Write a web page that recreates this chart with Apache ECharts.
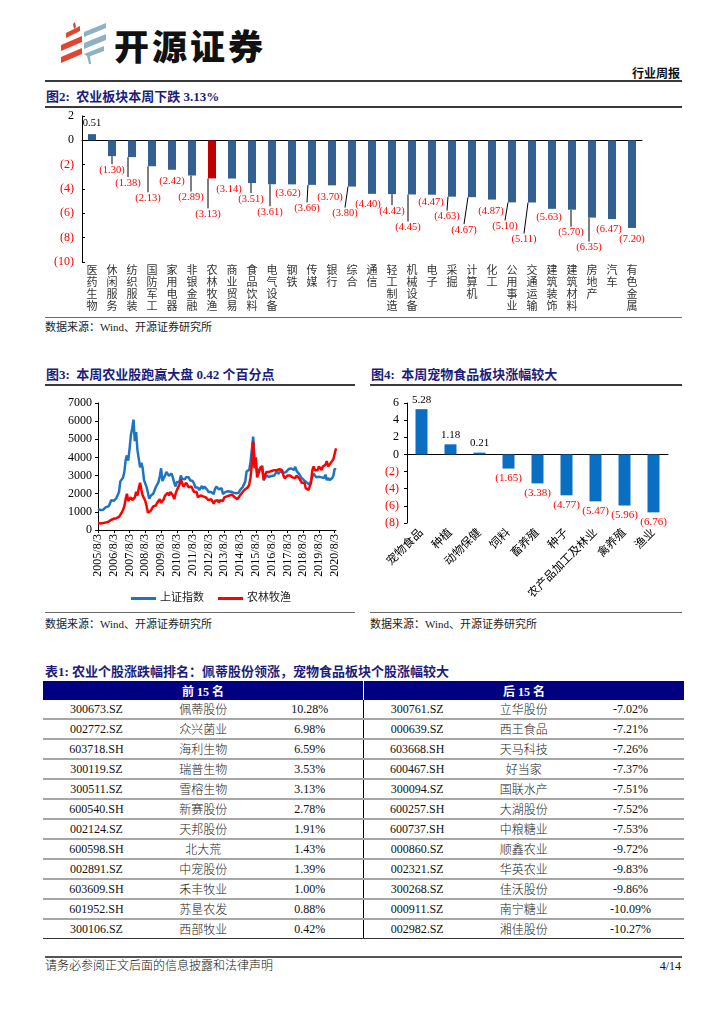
<!DOCTYPE html>
<html><head><meta charset="utf-8">
<script src="https://cdn.jsdelivr.net/npm/echarts@6/dist/echarts.min.js"></script>
<style>
body{margin:0;width:724px;height:1024px;position:relative;background:#fff;font-family:'Liberation Serif','Noto Sans CJK SC',serif;overflow:hidden;}
.title{position:absolute;font-weight:bold;font-size:13px;color:#1c1c7c;white-space:nowrap;line-height:16px;}
.hr{position:absolute;height:0;border-top:2px solid #3a3a3a;}
.hr2{position:absolute;height:0;border-top:1.5px solid #6a6a6a;}
.src{position:absolute;font-size:11px;color:#222;white-space:nowrap;line-height:13px;}
.chart{position:absolute;}
table{position:absolute;left:43px;top:681px;width:641px;border-collapse:collapse;table-layout:fixed;font-size:12px;}
th{background:#000080;color:#fff;height:19px;font-weight:bold;padding:0;font-size:12px;}
td{height:17.6px;text-align:center;padding:0;border-bottom:2px solid #a6a6a6;color:#111;white-space:nowrap;}
td.nm{font-weight:300;color:#222;}
td.div{border-right:1px solid #000;}
tr:last-child td{border-bottom:1.5px solid #333;}
</style>
</head><body>
<!-- header -->
<svg style="position:absolute;left:58px;top:20px" width="54" height="46" viewBox="0 0 54 46">
  <polygon points="8,13 22,6 22,11 8,18" fill="#e0452f"/>
  <polygon points="3,25 24,16 24,22 3,31" fill="#e0452f"/>
  <polygon points="3,37 24,28 24,34 3,43" fill="#e0452f"/>
  <polygon points="15,4 17,2 18,7 16,9" fill="#e0452f"/>
  <polygon points="26,12 48,3 48,8 26,17" fill="#8fb1c4"/>
  <polygon points="26,23 48,14 48,20 26,29" fill="#8fb1c4"/>
  <polygon points="26,34 46,26 46,31 30,37" fill="#8fb1c4"/>
  <polygon points="29,36 32,36 33,44 31,44" fill="#8fb1c4"/>
</svg>
<div style="position:absolute;left:114px;top:25px;font-family:'Noto Sans CJK SC';font-weight:900;font-size:35px;line-height:40px;letter-spacing:3px;color:#111;white-space:nowrap;">开源证券</div>
<div style="position:absolute;right:44px;top:67px;font-weight:bold;font-size:12px;line-height:14px;color:#111;">行业周报</div>
<div class="hr" style="left:45px;top:80px;width:637px;"></div>

<div class="title" style="left:46px;top:89px;">图2:&nbsp; 农业板块本周下跌 3.13%</div>
<div class="hr" style="left:45px;top:106px;width:637px;"></div>
<div id="c1" class="chart" style="left:40px;top:108px;width:650px;height:208px;"></div>
<div class="hr2" style="left:45px;top:317px;width:637px;"></div>
<div class="src" style="left:45px;top:321px;">数据来源：Wind、开源证券研究所</div>

<div class="title" style="left:46px;top:367px;">图3:&nbsp; 本周农业股跑赢大盘 0.42 个百分点</div>
<div class="hr" style="left:45px;top:384px;width:310px;"></div>
<div id="c3" class="chart" style="left:40px;top:386px;width:320px;height:226px;"></div>
<div class="hr2" style="left:45px;top:612px;width:310px;"></div>
<div class="src" style="left:45px;top:618px;">数据来源：Wind、开源证券研究所</div>

<div class="title" style="left:371px;top:367px;">图4:&nbsp; 本周宠物食品板块涨幅较大</div>
<div class="hr" style="left:370px;top:384px;width:312px;"></div>
<div id="c4" class="chart" style="left:365px;top:386px;width:325px;height:226px;"></div>
<div class="hr2" style="left:370px;top:612px;width:312px;"></div>
<div class="src" style="left:370px;top:618px;">数据来源：Wind、开源证券研究所</div>

<div class="title" style="left:45px;top:664px;">表1:&nbsp;农业个股涨跌幅排名：佩蒂股份领涨，宠物食品板块个股涨幅较大</div>
<table id="tbl"></table>

<div class="hr" style="left:45px;top:956px;width:637px;border-top-color:#555;"></div>
<div style="position:absolute;left:45px;top:959px;font-size:12px;line-height:14px;color:#111;font-weight:300;">请务必参阅正文后面的信息披露和法律声明</div>
<div style="position:absolute;right:43px;top:959px;font-size:12px;line-height:14px;color:#111;">4/14</div>

<script>
// ---------- 图2 data ----------
const sectors = ['医药生物','休闲服务','纺织服装','国防军工','家用电器','非银金融','农林牧渔','商业贸易','食品饮料','电气设备','钢铁','传媒','银行','综合','通信','轻工制造','机械设备','电子','采掘','计算机','化工','公用事业','交通运输','建筑装饰','建筑材料','房地产','汽车','有色金属'];
const sectorChg = [0.51,-1.30,-1.38,-2.13,-2.42,-2.89,-3.13,-3.14,-3.51,-3.61,-3.62,-3.66,-3.70,-3.80,-4.40,-4.42,-4.45,-4.47,-4.63,-4.67,-4.87,-5.10,-5.11,-5.63,-5.70,-6.35,-6.47,-7.20];
const highlightSector = '农林牧渔';

// ---------- 图3 data (monthly, 2005/8 - 2020/8) ----------
const sseIndex = [
 1160,1170,1100,1090,1120,
 1180,1260,1300,1300,1440,1640,1670,1610,1660,1760,1840,2100,
 2680,2790,2880,3180,3840,4110,3820,4470,5220,5600,6080,4900,
 5400,4400,4300,3450,3700,3400,2750,2780,2350,2250,1720,1880,
 1850,2000,2100,2370,2480,2640,2960,3400,2700,2780,3000,3200,
 3280,2990,3050,3110,2870,2600,2400,2640,2640,2660,3000,2820,
 2810,2790,2910,2930,2910,2740,2760,2700,2570,2360,2470,2330,
 2200,2290,2430,2260,2400,2370,2220,2100,2050,2090,2070,1980,
 2270,2390,2360,2240,2180,2300,1980,1990,2100,2180,2140,2220,
 2110,2030,2060,2030,2030,2040,2050,2200,2220,2360,2420,2680,
 3230,3210,3310,3750,4440,5150,3900,3660,3160,3050,3380,3450,
 3540,2740,2690,3000,2940,2920,2930,2980,3090,3000,3100,3250,
 3100,3160,3240,3220,3150,3120,3190,3270,3360,3350,3390,3320,
 3310,3480,3260,3170,3080,3100,2850,2880,2720,2820,2600,2590,
 2490,2590,2940,3100,3080,2900,2980,2930,2890,2900,2930,2870,
 3050,2750,2880,2750,2860,2850,2990,3370,3320
];
const agriIndex = [
 380,390,360,360,380,
 400,420,430,450,500,560,600,620,630,650,700,720,
 800,950,1100,1300,1700,2000,1600,1700,1800,1650,1700,1800,
 2100,1900,2300,2600,2200,1900,2000,1600,1300,950,900,1050,
 1100,1300,1400,1350,1500,1550,1700,1500,1600,1700,1900,2000,
 2050,1900,2100,2200,1900,1700,2000,2200,2300,2500,2800,2600,
 2400,2500,2600,2500,2350,2300,2400,2300,2100,2150,2100,1800,
 1800,1900,1950,1850,1900,1800,1700,1650,1600,1700,1600,1450,
 1600,1700,1650,1500,1650,1700,1600,1800,1900,1850,1950,1900,
 1850,1950,1850,1800,1750,1700,1800,1900,2000,2100,2200,2250,
 2300,2350,2500,2900,3600,4900,3400,4000,2900,3100,3300,3500,
 3300,2800,3000,3200,3100,3200,3300,3250,3200,3300,3400,3300,
 3200,3350,3400,3300,3000,2850,2900,3000,3050,3000,3100,2900,
 3000,2850,3000,2900,2850,2800,2600,2700,2600,2300,2400,2200,
 2300,2600,3300,3500,3300,3400,3300,3500,3400,3300,3500,3400,
 3600,3800,3500,3600,3700,3600,3900,4000,4500
];
const lineNames = ['上证指数','农林牧渔'];
const lastDate = '2020/8/21';

// ---------- 图4 data ----------
const subSectors = ['宠物食品','种植','动物保健','饲料','畜养殖','种子','农产品加工及林业','禽养殖','渔业'];
const subChg = [5.28,1.18,0.21,-1.65,-3.38,-4.77,-5.47,-5.96,-6.76];

// ---------- 表1 data ----------
const topCodes = ['300673.SZ','002772.SZ','603718.SH','300119.SZ','300511.SZ','600540.SH','002124.SZ','600598.SH','002891.SZ','603609.SH','601952.SH','300106.SZ'];
const topNames = ['佩蒂股份','众兴菌业','海利生物','瑞普生物','雪榕生物','新赛股份','天邦股份','北大荒','中宠股份','禾丰牧业','苏垦农发','西部牧业'];
const topPct = ['10.28%','6.98%','6.59%','3.53%','3.13%','2.78%','1.91%','1.43%','1.39%','1.00%','0.88%','0.42%'];
const botCodes = ['300761.SZ','000639.SZ','603668.SH','600467.SH','300094.SZ','600257.SH','600737.SH','000860.SZ','002321.SZ','300268.SZ','000911.SZ','002982.SZ'];
const botNames = ['立华股份','西王食品','天马科技','好当家','国联水产','大湖股份','中粮糖业','顺鑫农业','华英农业','佳沃股份','南宁糖业','湘佳股份'];
const botPct = ['-7.02%','-7.21%','-7.26%','-7.37%','-7.51%','-7.52%','-7.53%','-9.72%','-9.83%','-9.86%','-10.09%','-10.27%'];
const tableHeads = ['前 15 名','后 15 名'];

// ---------- helpers ----------
const FONT = "'Liberation Serif','Noto Sans CJK SC',serif";
const paren = v => v < 0 ? '(' + Math.abs(v).toFixed(2) + ')' : v.toFixed(2);
const parenInt = v => { v = Number(v); return v < 0 ? '(' + Math.abs(v) + ')' : String(v); };
const negRed = v => Number(v) < 0 ? '#ff0000' : '#000';

// ---------- 图2 ----------
// label layout (styling): vertical drop / horizontal shift of labels, and whether a guide line is drawn
const labelDy = [0,8,20,26,5.5,16,30,5,10,22,3,17.5,6,21,4.5,11,27,1.6,14,27,6,18,31,2.5,17,24,4,5.5];
const labelDx = [0,0,-4,-4,0,-1,-4,-3,-1,-2,-4,-5,-2,-7,-4,0,-4,-1,-5,-8,-1,-7,-8,-3,-1,-3,-3,0];
const leader = [0,1,1,1,0,1,1,0,1,1,0,1,0,1,0,1,1,0,1,1,0,1,1,0,1,1,0,0];

const c1 = echarts.init(document.getElementById('c1'));
c1.setOption({
  animation:false,
  grid:{left:42,top:8,width:560,height:146,containLabel:false},
  xAxis:[
    {type:'category',data:sectors,axisLine:{onZero:true,lineStyle:{color:'#000',width:1}},
     axisTick:{inside:true,length:3,lineStyle:{color:'#000'}},axisLabel:{show:false}},
    {type:'category',data:sectors,position:'bottom',axisLine:{show:false},axisTick:{show:false},
     axisLabel:{interval:0,margin:3,fontFamily:FONT,fontSize:11,lineHeight:12,color:'#333',verticalAlign:'top',
       formatter:s=>s.split('').join('\n')}}
  ],
  yAxis:{type:'value',min:-10,max:2,interval:2,
    axisLine:{show:true,lineStyle:{color:'#000'}},axisTick:{show:true,inside:true,length:3,lineStyle:{color:'#000'}},
    splitLine:{show:false},
    axisLabel:{fontFamily:FONT,fontSize:12,margin:8,formatter:parenInt,color:negRed}},
  series:[{
    type:'bar',xAxisIndex:0,barWidth:8,
    data:sectorChg.map((v,i)=>({value:v,
      itemStyle:{color: sectors[i]===highlightSector ? '#c00000' : '#335f91'},
      label:{position: v<0?'bottom':'top', distance: v<0?0:5, color: v<0?'#ff0000':'#000'},
      labelLine:{show: !!leader[i]}})),
    label:{show:true,fontFamily:FONT,fontSize:10.5,lineHeight:12,formatter:p=>paren(p.value)},
    labelLine:{show:true,lineStyle:{color:'#000',width:1}},
    labelLayout:p=>({dx:labelDx[p.dataIndex],dy:labelDy[p.dataIndex]})
  }]
});

// ---------- 图3 ----------
const dates = [];
for (let i = 0; i < sseIndex.length - 1; i++) {
  const m = (7 + i) % 12 + 1, y = 2005 + Math.floor((7 + i) / 12);
  dates.push(y + '/' + m + '/3');
}
dates.push(lastDate);

const c3 = echarts.init(document.getElementById('c3'));
c3.setOption({
  animation:false,
  grid:{left:58,top:17,width:238,height:127},
  legend:{top:202,left:86,itemGap:14,itemWidth:25,itemHeight:3,icon:'rect',
    textStyle:{fontFamily:FONT,fontSize:11,color:'#222',padding:[0,0,0,-1]},
    data:[{name:lineNames[0]},{name:lineNames[1]}]},
  xAxis:{type:'category',data:dates,boundaryGap:false,
    axisLine:{lineStyle:{color:'#000'}},
    axisTick:{interval:11,length:3,lineStyle:{color:'#000'}},
    axisLabel:{interval:11,rotate:90,margin:4,fontFamily:FONT,fontSize:12,color:'#000'}},
  yAxis:{type:'value',min:0,max:7000,interval:1000,
    axisLine:{show:true,lineStyle:{color:'#000'}},axisTick:{show:true,length:3,lineStyle:{color:'#000'}},
    splitLine:{show:false},axisLabel:{fontFamily:FONT,fontSize:12,color:'#000',margin:6,formatter:v=>String(v)}},
  series:[
    {name:lineNames[0],type:'line',data:sseIndex,showSymbol:false,symbol:'none',lineStyle:{color:'#1f74c2',width:2.5},itemStyle:{color:'#1f74c2'}},
    {name:lineNames[1],type:'line',data:agriIndex,showSymbol:false,symbol:'none',lineStyle:{color:'#ff0000',width:2.5},itemStyle:{color:'#ff0000'}}
  ]
});

// ---------- 图4 ----------
const c4 = echarts.init(document.getElementById('c4'));
c4.setOption({
  animation:false,
  grid:{left:42,top:17,width:261,height:120},
  xAxis:[
    {type:'category',data:subSectors,axisLine:{onZero:true,lineStyle:{color:'#000'}},
     axisTick:{length:3,lineStyle:{color:'#000'}},axisLabel:{show:false}},
    {type:'category',data:subSectors,position:'bottom',axisLine:{show:false},axisTick:{show:false},
     axisLabel:{interval:0,rotate:45,margin:8,fontFamily:FONT,fontSize:11.5,color:'#000'}}
  ],
  yAxis:{type:'value',min:-8,max:6,interval:2,
    axisLine:{show:true,lineStyle:{color:'#000'}},axisTick:{show:true,length:3,lineStyle:{color:'#000'}},
    splitLine:{show:false},
    axisLabel:{fontFamily:FONT,fontSize:12,margin:8,formatter:parenInt,color:negRed}},
  series:[{type:'bar',xAxisIndex:0,barWidth:12,itemStyle:{color:'#0a6fc2'},
    data:subChg.map(v=>({value:v,label:{position:v<0?'bottom':'top',color:v<0?'#ff0000':'#000'}})),
    label:{show:true,distance:4,fontFamily:FONT,fontSize:11,formatter:p=>paren(p.value)}}]
});

// ---------- 表1 ----------
(function(){
  const t = document.getElementById('tbl');
  let h = '<colgroup>' + '<col>'.repeat(6) + '</colgroup>';
  h += '<tr><th colspan="3" style="border-right:1px solid #fff">' + tableHeads[0] + '</th><th colspan="3">' + tableHeads[1] + '</th></tr>';
  for (let i = 0; i < topCodes.length; i++) {
    h += '<tr><td>' + topCodes[i] + '</td><td class="nm">' + topNames[i] + '</td><td class="div">' + topPct[i] +
         '</td><td>' + botCodes[i] + '</td><td class="nm">' + botNames[i] + '</td><td>' + botPct[i] + '</td></tr>';
  }
  t.innerHTML = h;
})();
</script>
</body></html>
